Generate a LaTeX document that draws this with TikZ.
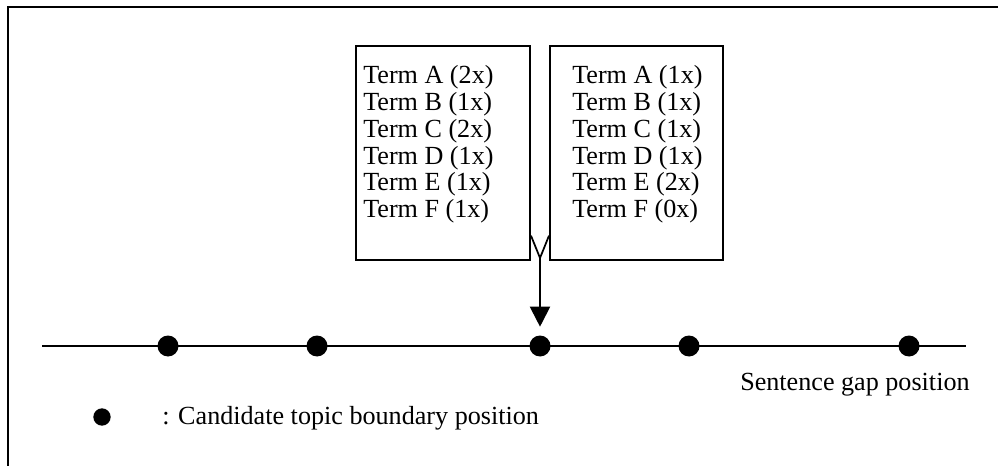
\documentclass[tikz,border=0pt]{standalone}
\usepackage{fontspec}
\setmainfont{Liberation Serif}
\usetikzlibrary{arrows.meta}
\begin{document}
\begin{tikzpicture}[x=0.75pt,y=-0.75pt,font=\fontsize{19.6pt}{20pt}\selectfont,
  termbox/.style={draw,line width=1.5pt,minimum height=160.5pt,inner sep=0pt,anchor=north west},
  termtext/.style={anchor=base west,inner sep=0pt},
  dot/.style={circle,fill,inner sep=0pt,minimum size=#1},
  dot/.default=15.75pt]
\useasboundingbox (0,0) rectangle (998,466);
\draw[line width=1.5pt] (8,466) -- (8,7) -- (998,7);

\node[termbox,minimum width=130.5pt] (lbox) at (355,45) {};
\node[termbox,minimum width=129.75pt] (rbox) at (549,45) {};
\foreach \tm/\lc/\rc [count=\i from 0] in {A/2/1,B/1/1,C/2/1,D/1/1,E/1/2,F/1/0}
{
    \node[termtext] (lt\tm) at (363,{84+26.7*\i}) {Term \tm\ (\lc x)};
    \node[termtext] (rt\tm) at (572,{84+26.7*\i}) {Term \tm\ (\rc x)};
}

\coordinate (lstart) at (42,346);
\coordinate (lend) at (966,346);
\draw[line width=1.2pt] (lstart) -- (lend);
\foreach \x [count=\i] in {168,317,540,689,909}
    \node[dot] (d\i) at (\x,346) {};

\coordinate (fork) at (540,258);
\draw[line width=1.3pt] ([yshift=19pt]lbox.south east) -- (fork) -- ([yshift=19pt]rbox.south west);
\draw[line width=1.5pt,-{Triangle[width=15pt,length=15pt]}] (fork) -- ([yshift=6.4pt]d3.north);

\node[anchor=base west,inner sep=0pt] (gap) at (740,390) {Sentence gap position};
\node[dot=13pt] (key) at (102,417) {};
\node[anchor=base west,inner sep=0pt] (keytext) at (162,424) {: Candidate topic boundary position};
\end{tikzpicture}
\end{document}
